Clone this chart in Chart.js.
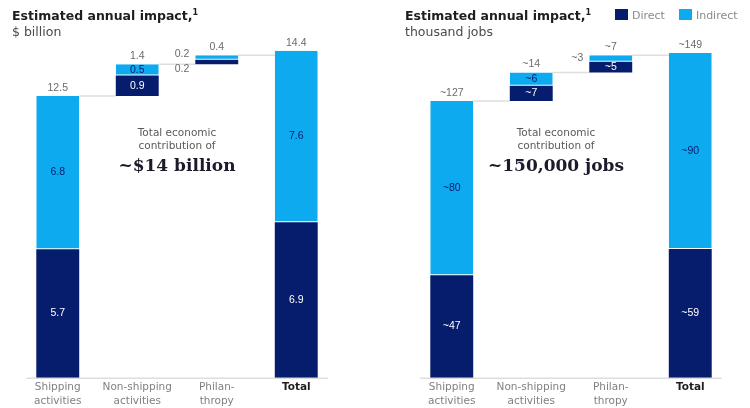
<!DOCTYPE html>
<html>
<head>
<meta charset="utf-8">
<script src="https://cdn.jsdelivr.net/npm/chart.js@4.4.1/dist/chart.umd.min.js"></script>
<style>
  body { margin: 0; background: #fff; font-family: "DejaVu Sans", "Liberation Sans", Arial, sans-serif; }
  #wrap { position: relative; width: 750px; height: 408px; overflow: hidden; }
  canvas { position: absolute; top: 0; }
  .head { position: absolute; top: 5px; line-height: 15px; }
  .head b { font-size: 12.5px; color: #1e1e1e; display: block; }
  .head b sup { font-size: 8px; vertical-align: 5px; }
  .head span { font-size: 12.5px; color: #4a4a4a; }
  .legend { position: absolute; top: 9px; left: 615px; font-size: 11px; color: #8a8a8a; }
  .legend i { display: inline-block; width: 13px; height: 11px; vertical-align: -1px; margin-right: 4px; }
  .note { position: absolute; text-align: center; width: 200px; }
  .note small { display: block; font-size: 10.5px; color: #5a5a5a; line-height: 13px; }
  .note strong { display: block; font-family: "DejaVu Serif", "Liberation Serif", serif; font-size: 17px; color: #1b1b2b; margin-top: 3px; }
</style>
</head>
<body>
<div id="wrap">
  <canvas id="usdChart" width="375" height="411" style="left:0"></canvas>
  <canvas id="jobsChart" width="375" height="411" style="left:375px"></canvas>

  <div class="head" style="left:12px"><b>Estimated annual impact,<sup>1</sup></b><span>$ billion</span></div>
  <div class="head" style="left:405px"><b>Estimated annual impact,<sup>1</sup></b><span>thousand jobs</span></div>
  <div class="legend">
    <i style="background:#061d6e"></i>Direct&nbsp;&nbsp;&nbsp;
    <i style="background:#0eaaf0"></i>Indirect
  </div>

  <div class="note" style="left:77px;top:126px">
    <small>Total economic<br>contribution of</small>
    <strong>~$14 billion</strong>
  </div>
  <div class="note" style="left:456px;top:126px">
    <small>Total economic<br>contribution of</small>
    <strong>~150,000 jobs</strong>
  </div>
</div>

<script>
const DIRECT = "#061d6e";
const INDIRECT = "#0eaaf0";

const categories = [["Shipping", "activities"], ["Non-shipping", "activities"], ["Philan-", "thropy"], "Total"];

// $ billion
const usdDirect = [5.7, 0.9, 0.2, 6.9];
const usdIndirect = [6.8, 0.5, 0.2, 7.6];
const usdTotals = ["12.5", "1.4", "0.4", "14.4"];
const usdDirectLabels = ["5.7", "0.9", "0.2", "6.9"];
const usdIndirectLabels = ["6.8", "0.5", "0.2", "7.6"];

// thousand jobs
const jobsDirect = [47, 7, 5, 59];
const jobsIndirect = [80, 6, 3, 90];
const jobsTotals = ["~127", "~14", "~7", "~149"];
const jobsDirectLabels = ["~47", "~7", "~5", "~59"];
const jobsIndirectLabels = ["~80", "~6", "~3", "~90"];

// Turn segment sizes into floating [start, end] ranges; last bar starts at zero
const buildRanges = (direct, indirect) => {
    let base = 0;
    const d = [], ind = [];
    direct.forEach((v, i) => {
        const start = i === direct.length - 1 ? 0 : base;
        d.push([start, start + v]);
        ind.push([start + v, start + v + indirect[i]]);
        if (i < direct.length - 1) base = start + v + indirect[i];
    });
    return { d, ind };
};

const waterfallPlugin = {
    id: "waterfall",
    beforeDatasetsDraw(chart) {
        const { ctx } = chart;
        const y = chart.scales.y;
        const metaD = chart.getDatasetMeta(0);
        const metaI = chart.getDatasetMeta(1);
        const ranges = chart.data.datasets[1].data;
        ctx.save();
        ctx.strokeStyle = "#dedede";
        ctx.lineWidth = 1.5;
        // connectors from each bar's top to the next bar
        for (let i = 0; i < ranges.length - 1; i++) {
            const top = y.getPixelForValue(ranges[i][1]);
            const bar = metaI.data[i];
            const next = metaI.data[i + 1];
            ctx.beginPath();
            ctx.moveTo(bar.x + bar.width / 2, top);
            ctx.lineTo(next.x - next.width / 2, top);
            ctx.stroke();
        }
        // baseline
        const first = metaD.data[0], last = metaD.data[metaD.data.length - 1];
        const y0 = y.getPixelForValue(0) + 0.5;
        ctx.beginPath();
        ctx.moveTo(first.x - first.width / 2 - 10, y0);
        ctx.lineTo(last.x + last.width / 2 + 10, y0);
        ctx.stroke();
        ctx.restore();
    },
    afterDatasetsDraw(chart, args, opts) {
        const { ctx } = chart;
        const metaD = chart.getDatasetMeta(0);
        const metaI = chart.getDatasetMeta(1);
        ctx.save();
        ctx.font = "10.5px 'Liberation Sans', Arial, sans-serif";
        ctx.textBaseline = "middle";
        metaD.data.forEach((barD, i) => {
            const barI = metaI.data[i];
            const hD = Math.abs(barD.base - barD.y);
            const hI = Math.abs(barI.base - barI.y);
            // total above the bar
            ctx.fillStyle = "#6a6a6a";
            ctx.textAlign = "center";
            ctx.fillText(opts.totals[i], barI.x, barI.y - 8);
            // direct segment
            if (hD >= 9) {
                ctx.fillStyle = "#ffffff";
                ctx.fillText(opts.direct[i], barD.x, (barD.y + barD.base) / 2);
            } else {
                ctx.fillStyle = "#6a6a6a";
                ctx.textAlign = "right";
                ctx.fillText(opts.direct[i], barD.x - barD.width / 2 - 6, (barD.y + barD.base) / 2 + 7);
            }
            // indirect segment
            ctx.textAlign = "center";
            if (hI >= 9) {
                ctx.fillStyle = DIRECT;
                ctx.fillText(opts.indirect[i], barI.x, (barI.y + barI.base) / 2);
            } else {
                ctx.fillStyle = "#6a6a6a";
                ctx.textAlign = "right";
                const shift = hD >= 9 ? 0 : -3;
                ctx.fillText(opts.indirect[i], barI.x - barI.width / 2 - 6, (barI.y + barI.base) / 2 + shift);
            }
        });
        ctx.restore();
    },
};

const makeChart = (id, direct, indirect, labels, pad, yMax) => {
    const { d, ind } = buildRanges(direct, indirect);
    return new Chart(document.getElementById(id), {
        type: "bar",
        data: {
            labels: categories,
            datasets: [
                { label: "Direct", data: d, backgroundColor: DIRECT, borderWidth: 0 },
                {
                    label: "Indirect", data: ind, backgroundColor: INDIRECT,
                    borderColor: "#ffffff", borderWidth: { top: 0, left: 0, right: 0, bottom: 1 }, borderSkipped: false,
                },
            ],
        },
        options: {
            responsive: false,
            devicePixelRatio: 1,
            animation: false,
            grouped: false,
            categoryPercentage: 1,
            barPercentage: 0.54,
            layout: { padding: pad },
            plugins: {
                legend: { display: false },
                tooltip: { enabled: false },
                waterfall: labels,
            },
            scales: {
                y: { display: false, min: 0, max: yMax },
                x: {
                    grid: { display: false, drawTicks: false },
                    border: { display: false },
                    ticks: {
                        padding: 3,
                        maxRotation: 0,
                        autoSkip: false,
                        color: (c) => (c.index === 3 ? "#1e1e1e" : "#808080"),
                        font: (c) => ({
                            family: "'DejaVu Sans', Arial, sans-serif",
                            size: 10.5,
                            weight: c.index === 3 ? "bold" : "normal",
                            lineHeight: 1.3,
                        }),
                    },
                },
            },
        },
        plugins: [waterfallPlugin],
    });
};

makeChart("usdChart", usdDirect, usdIndirect,
    { totals: usdTotals, direct: usdDirectLabels, indirect: usdIndirectLabels },
    { left: 18, right: 39, top: 17, bottom: 0 }, 16);

makeChart("jobsChart", jobsDirect, jobsIndirect,
    { totals: jobsTotals, direct: jobsDirectLabels, indirect: jobsIndirectLabels },
    { left: 37, right: 20, top: 17, bottom: 0 }, 165.5);
</script>
</body>
</html>
